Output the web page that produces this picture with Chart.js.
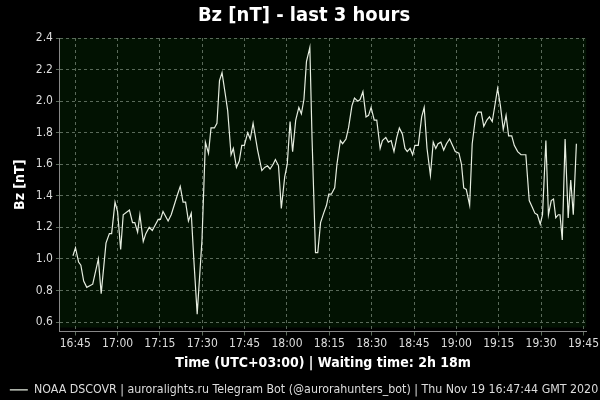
<!DOCTYPE html>
<html>
<head>
<meta charset="utf-8">
<script src="https://cdn.jsdelivr.net/npm/chart.js@4/dist/chart.umd.min.js"></script>
<style>
  html, body { margin: 0; padding: 0; background: #000; }
  #wrap { width: 600px; height: 400px; }
</style>
</head>
<body>
<div id="wrap"><canvas id="bzChart"></canvas></div>
<script>
// time in minutes since midnight (UTC+03:00), Bz in nT
const times = [
  1004.2, 1005.1, 1006.2, 1007.0, 1008.0, 1009.1, 1011.2, 1013.2, 1014.2, 1015.9,
  1017.1, 1017.9, 1019.1, 1020.0, 1021.1, 1022.0, 1024.2, 1025.3, 1026.1, 1027.1,
  1027.9, 1029.1, 1030.0, 1031.2, 1032.3, 1033.2, 1034.4, 1035.2, 1036.1, 1037.9,
  1039.0, 1041.1, 1042.2, 1043.2, 1044.1, 1045.1, 1046.1, 1047.0, 1048.2, 1049.9,
  1051.1, 1052.2, 1053.1, 1054.3, 1055.2, 1056.1, 1057.0, 1058.1, 1059.0, 1060.2,
  1061.0, 1062.1, 1063.1, 1064.0, 1064.9, 1066.1, 1067.0, 1068.0, 1069.6, 1071.1,
  1072.1, 1073.1, 1074.0, 1075.1, 1075.9, 1077.0, 1078.0, 1079.2, 1080.1, 1081.1,
  1082.0, 1083.1, 1084.2, 1085.1, 1086.0, 1086.9, 1088.1, 1088.9, 1090.1, 1090.9,
  1091.9, 1093.0, 1094.0, 1094.8, 1095.7, 1096.9, 1097.7, 1098.9, 1099.7, 1100.9,
  1101.8, 1103.0, 1103.9, 1105.1, 1105.9, 1106.9, 1108.0, 1108.9, 1109.8, 1110.9,
  1111.8, 1113.0, 1113.8, 1115.0, 1115.9, 1116.9, 1117.9, 1118.9, 1119.8, 1120.9,
  1121.8, 1122.6, 1123.6, 1124.5, 1125.3, 1126.5, 1127.7, 1128.6, 1129.6, 1130.8,
  1131.8, 1132.7, 1133.5, 1134.5, 1135.5, 1136.5, 1137.6, 1138.6, 1139.6, 1140.9,
  1141.8, 1142.6, 1143.5, 1144.7, 1145.6, 1146.8, 1147.6, 1148.8, 1149.7, 1150.8,
  1151.7, 1152.7, 1153.7, 1154.6, 1155.6, 1156.6, 1157.6, 1158.5, 1159.6, 1160.5,
  1161.7, 1162.9, 1164.6, 1165.8, 1166.8, 1167.8, 1168.7, 1169.7, 1170.5, 1171.7,
  1172.6, 1173.6, 1174.4, 1175.2, 1176.1, 1176.7, 1177.5, 1178.5, 1179.6, 1180.5,
  1181.4, 1182.5
];
const bz = [
  1.02, 1.07, 0.98, 0.96, 0.86, 0.82, 0.84, 1.00, 0.78, 1.10,
  1.16, 1.16, 1.36, 1.30, 1.06, 1.28, 1.31, 1.23, 1.23, 1.17,
  1.28, 1.11, 1.16, 1.20, 1.18, 1.21, 1.25, 1.25, 1.30, 1.24,
  1.28, 1.40, 1.46, 1.36, 1.36, 1.24, 1.29, 1.00, 0.65, 1.12,
  1.74, 1.67, 1.83, 1.83, 1.86, 2.13, 2.18, 2.05, 1.94, 1.66,
  1.70, 1.58, 1.62, 1.72, 1.72, 1.80, 1.76, 1.86, 1.69, 1.56,
  1.58, 1.59, 1.57, 1.60, 1.63, 1.59, 1.32, 1.52, 1.60, 1.87,
  1.68, 1.88, 1.96, 1.92, 2.01, 2.25, 2.34, 1.75, 1.04, 1.04,
  1.23, 1.29, 1.34, 1.41, 1.41, 1.45, 1.60, 1.75, 1.73, 1.76,
  1.83, 1.97, 2.02, 2.00, 2.01, 2.06, 1.90, 1.91, 1.96, 1.88,
  1.88, 1.70, 1.75, 1.77, 1.74, 1.75, 1.68, 1.77, 1.83, 1.79,
  1.70, 1.68, 1.70, 1.66, 1.72, 1.72, 1.90, 1.96, 1.70, 1.53,
  1.74, 1.70, 1.73, 1.74, 1.69, 1.73, 1.76, 1.72, 1.68, 1.67,
  1.60, 1.45, 1.44, 1.34, 1.73, 1.90, 1.93, 1.93, 1.84, 1.88,
  1.90, 1.87, 1.98, 2.08, 1.97, 1.82, 1.91, 1.78, 1.78, 1.72,
  1.68, 1.66, 1.66, 1.37, 1.33, 1.29, 1.28, 1.22, 1.28, 1.75,
  1.28, 1.37, 1.38, 1.26, 1.28, 1.28, 1.12, 1.76, 1.26, 1.50,
  1.28, 1.73
];
const xTicks = [1005, 1020, 1035, 1050, 1065, 1080, 1095, 1110, 1125, 1140, 1155, 1170, 1185];
const yTicks = [0.6, 0.8, 1.0, 1.2, 1.4, 1.6, 1.8, 2.0, 2.2, 2.4];

const fmtTime = m => {
  const h = Math.floor(m / 60), mm = Math.round(m % 60);
  return h + ':' + String(mm).padStart(2, '0');
};

// dark green plot background, stops a few px above the x axis line
const plotBg = {
  id: 'plotBg',
  beforeDraw(chart) {
    const { ctx, chartArea: a } = chart;
    ctx.save();
    ctx.fillStyle = '#021202';
    ctx.fillRect(a.left, a.top, a.right - a.left, a.bottom - a.top - 4);
    ctx.restore();
  }
};

const FONT = '"DejaVu Sans Condensed", "DejaVu Sans", sans-serif';
Chart.defaults.font.family = FONT;

new Chart(document.getElementById('bzChart'), {
  type: 'line',
  data: {
    datasets: [{
      label: 'NOAA DSCOVR | auroralights.ru Telegram Bot (@aurorahunters_bot) | Thu Nov 19 16:47:44 GMT 2020',
      data: times.map((t, i) => ({ x: t, y: bz[i] })),
      borderColor: '#e6ede0',
      borderWidth: 1.2,
      pointRadius: 0,
      tension: 0,
      fill: false
    }]
  },
  options: {
    responsive: true,
    maintainAspectRatio: false,
    animation: false,
    layout: { padding: { left: 8, right: 0, top: 2, bottom: -6 } },
    plugins: {
      title: {
        display: true,
        text: 'Bz [nT] - last 3 hours',
        color: '#ffffff',
        font: { size: 20, weight: 'bold' },
        padding: { top: 2, bottom: 10 }
      },
      legend: {
        position: 'bottom',
        labels: {
          color: '#dddddd',
          font: { size: 12.3 },
          usePointStyle: true,
          pointStyle: 'line',
          pointStyleWidth: 18,
          boxWidth: 18,
          padding: 0
        }
      },
      tooltip: { enabled: false }
    },
    scales: {
      x: {
        type: 'linear',
        min: 999.6,
        max: 1186,
        afterBuildTicks: s => { s.ticks = xTicks.map(v => ({ value: v })); },
        ticks: { color: '#dddddd', font: { size: 12 }, maxRotation: 0, autoSkip: false, padding: 1, callback: v => fmtTime(v) },
        grid: { color: '#5a6a5a', drawTicks: true, tickLength: 4 },
        border: { display: true, color: '#888888', dash: [3, 3] },
        title: { display: true, text: 'Time (UTC+03:00) | Waiting time: 2h 18m', color: '#ffffff', font: { size: 14, weight: 'bold' }, padding: { top: 3, bottom: 12 } }
      },
      y: {
        min: 0.54,
        max: 2.4,
        afterBuildTicks: s => { s.ticks = yTicks.map(v => ({ value: v })); },
        ticks: { color: '#dddddd', font: { size: 12 }, padding: 3, callback: v => v.toFixed(1) },
        grid: { color: '#5a6a5a', tickLength: 4 },
        border: { display: true, color: '#888888', dash: [3, 3] },
        title: { display: true, text: 'Bz [nT]', color: '#ffffff', font: { size: 14, weight: 'bold' }, padding: 4 }
      }
    }
  },
  plugins: [plotBg]
});
</script>
</body>
</html>
